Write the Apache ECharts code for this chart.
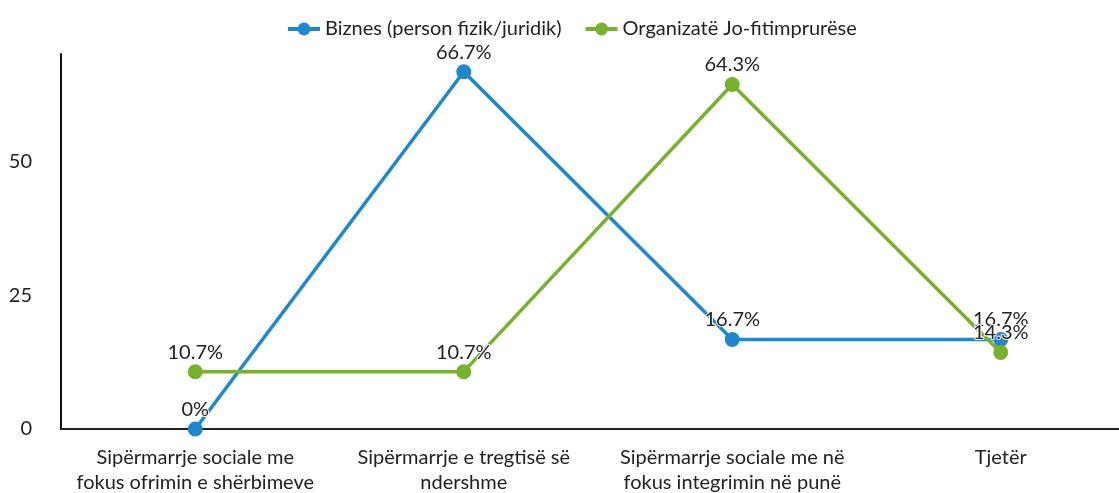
<!DOCTYPE html>
<html>
<head>
<meta charset="utf-8">
<script src="https://cdn.jsdelivr.net/npm/echarts@6/dist/echarts.min.js"></script>
<style>
  html, body { margin: 0; padding: 0; background: #fff; }
  #chart { width: 1119px; height: 493px; }
</style>
</head>
<body>
<div id="chart"></div>
<script>
  // kategoritë dhe vlerat (%)
  var categories = [
    'Sipërmarrje sociale me\nfokus ofrimin e shërbimeve',
    'Sipërmarrje e tregtisë së\nndershme',
    'Sipërmarrje sociale me në\nfokus integrimin në punë',
    'Tjetër'
  ];
  var seriesNames = ['Biznes (person fizik/juridik)', 'Organizatë Jo-fitimprurëse'];
  var biznes = [0, 66.7, 16.7, 16.7];
  var organizate = [10.7, 10.7, 64.3, 14.3];

  var font = 'Lato, "Noto Sans", sans-serif';

  function lineSeries(name, data, color) {
    return {
      name: name,
      type: 'line',
      data: data,
      symbol: 'circle',
      symbolSize: 15,
      lineStyle: { width: 3.5, color: color },
      itemStyle: { color: color },
      label: {
        show: true,
        position: 'top',
        distance: 2,
        formatter: function (p) { return p.value + '%'; },
        color: '#222',
        fontFamily: font,
        fontSize: 20,
        textBorderColor: '#fff',
        textBorderWidth: 2
      }
    };
  }

  var chart = echarts.init(document.getElementById('chart'));
  var option = {
    animation: false,
    color: ['#1f87cd', '#77b12e'],
    legend: {
      top: 14,
      left: 281,
      itemWidth: 32,
      itemHeight: 16,
      itemGap: 22,
      lineStyle: { width: 4 },
      textStyle: { fontFamily: font, fontSize: 20, color: '#222' },
      data: seriesNames
    },
    grid: { left: 61, top: 54, width: 1074, height: 375, containLabel: false, outerBoundsMode: 'none' },
    xAxis: {
      type: 'category',
      data: categories,
      axisLine: { lineStyle: { color: '#222', width: 2 } },
      axisTick: { show: false },
      axisLabel: {
        interval: 0,
        margin: 16,
        color: '#222',
        fontFamily: font,
        fontSize: 20,
        lineHeight: 25
      }
    },
    yAxis: {
      type: 'value',
      min: 0,
      max: 70,
      interval: 25,
      axisLine: { show: true, lineStyle: { color: '#111', width: 2 } },
      axisTick: { show: false },
      splitLine: { show: false },
      axisLabel: {
        showMaxLabel: false,
        margin: 29,
        color: '#222',
        fontFamily: font,
        fontSize: 20
      }
    },
    series: [
      lineSeries(seriesNames[0], biznes, '#1f87cd'),
      lineSeries(seriesNames[1], organizate, '#77b12e')
    ]
  };
  chart.setOption(option);
</script>
</body>
</html>
